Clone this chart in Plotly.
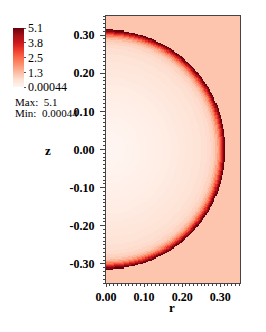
import numpy as np
import plotly.graph_objects as go

# Radial profile of the field (distance from origin -> value)
profile_r = [0.000, 0.020, 0.040, 0.060, 0.080, 0.100, 0.120, 0.140, 0.160, 0.180,
             0.200, 0.220, 0.240, 0.260, 0.270, 0.280, 0.285, 0.290, 0.294, 0.298,
             0.301, 0.304, 0.307, 0.310, 0.3125]
profile_v = [0.00044, 0.01, 0.03, 0.06, 0.09, 0.13, 0.17, 0.22, 0.27, 0.33,
             0.39, 0.46, 0.54, 0.64, 0.72, 0.85, 1.0, 1.3, 1.7, 2.2,
             2.8, 3.4, 4.1, 4.8, 5.1]
outside_value = 1.1
sphere_radius = 0.314

field_min = 0.00044
field_max = 5.1
cbar_tickvals = [0.00044, 1.275, 2.55, 3.825, 5.1]
cbar_ticktext = ["0.00044", "1.3", "2.5", "3.8", "5.1"]
x_ticks = [0.0, 0.1, 0.2, 0.3]
x_labels = ["0.00", "0.10", "0.20", "0.30"]
y_ticks = [-0.3, -0.2, -0.1, 0.0, 0.1, 0.2, 0.3]
y_labels = ["-0.30", "-0.20", "-0.10", "0.00", "0.10", "0.20", "0.30"]

reds = [[0.0, "#fff5f0"], [0.125, "#fee0d2"], [0.25, "#fcbba1"], [0.375, "#fc9272"],
        [0.5, "#fb6a4a"], [0.625, "#ef3b2c"], [0.75, "#cb181d"], [0.875, "#a50f15"],
        [1.0, "#67000d"]]

# layout geometry (figure pixels)
W, H = 266, 332
PL, PR, PT, PB = 98, 232, 8, 275
pw, ph = PR - PL, PB - PT

def px(xp):
    return (xp - PL) / pw

def py(yp):
    return 1 - (yp - PT) / ph

# mesh (cell centres)
x_max = 0.352
nx, ny = 120, 240
xs = (np.arange(nx) + 0.5) * (x_max / nx)
ys = -0.35 + (np.arange(ny) + 0.5) * (0.70 / ny)
X, Y = np.meshgrid(xs, ys)
R = np.sqrt(X ** 2 + Y ** 2)
pr = np.array(profile_r)
pv = np.array(profile_v)
idx = np.abs(R[..., None] - pr[None, None, :]).argmin(axis=-1)
Z = pv[idx]
Z[R > sphere_radius] = outside_value

font_fam = "Liberation Serif"
fig = go.Figure()
fig.add_trace(go.Heatmap(
    x=xs, y=ys, z=Z, zmin=field_min, zmax=field_max, colorscale=reds, zsmooth=False,
    colorbar=dict(
        xref="container", yref="container", x=5 / W, xanchor="left",
        y=1 - 25 / H, yanchor="top", lenmode="pixels", len=59, thickness=11,
        outlinewidth=0, tickvals=cbar_tickvals, ticktext=cbar_ticktext,
        ticks="outside", ticklen=2, tickcolor="#555",
        tickfont=dict(family=font_fam, size=12, color="black"),
        xpad=0, ypad=0,
    ),
))

axis_common = dict(
    showgrid=False, zeroline=False, showline=True, linecolor="#444", linewidth=1,
    mirror=True, ticks="outside", tickcolor="#444",
    tickfont=dict(family=font_fam, size=12, color="black", weight="bold"),
    minor=dict(ticks="outside", ticklen=2, dtick=0.01, tick0=0, tickcolor="#444"),
)
fig.update_xaxes(range=[0, x_max], tickvals=x_ticks, ticktext=x_labels, ticklen=3,
                 **axis_common)
fig.update_yaxes(range=[-0.35, 0.35], tickvals=y_ticks, ticktext=y_labels, ticklen=5,
                 ticklabelstandoff=3, **axis_common)

title_font = dict(family=font_fam, size=13, color="black", weight="bold")
fig.add_annotation(xref="paper", yref="paper", x=px(35), y=py(142), showarrow=False,
                   text="z", font=title_font)
fig.add_annotation(xref="paper", yref="paper", x=px(164), y=py(299), yanchor="middle",
                   showarrow=False, text="r", font=title_font)

fig.add_annotation(xref="paper", yref="paper", x=px(5), y=py(94),
                   xanchor="left", yanchor="middle", showarrow=False,
                   text=f"Max:  {field_max}", font=dict(family=font_fam, size=11, color="black"))
fig.add_annotation(xref="paper", yref="paper", x=px(5), y=py(105),
                   xanchor="left", yanchor="middle", showarrow=False,
                   text=f"Min:  {field_min}", font=dict(family=font_fam, size=11, color="black"))

fig.update_layout(
    width=W, height=H,
    margin=dict(l=PL, r=W - PR, t=PT, b=H - PB, autoexpand=False),
    paper_bgcolor="white", plot_bgcolor="white", showlegend=False,
)
fig.write_html("out.html")
